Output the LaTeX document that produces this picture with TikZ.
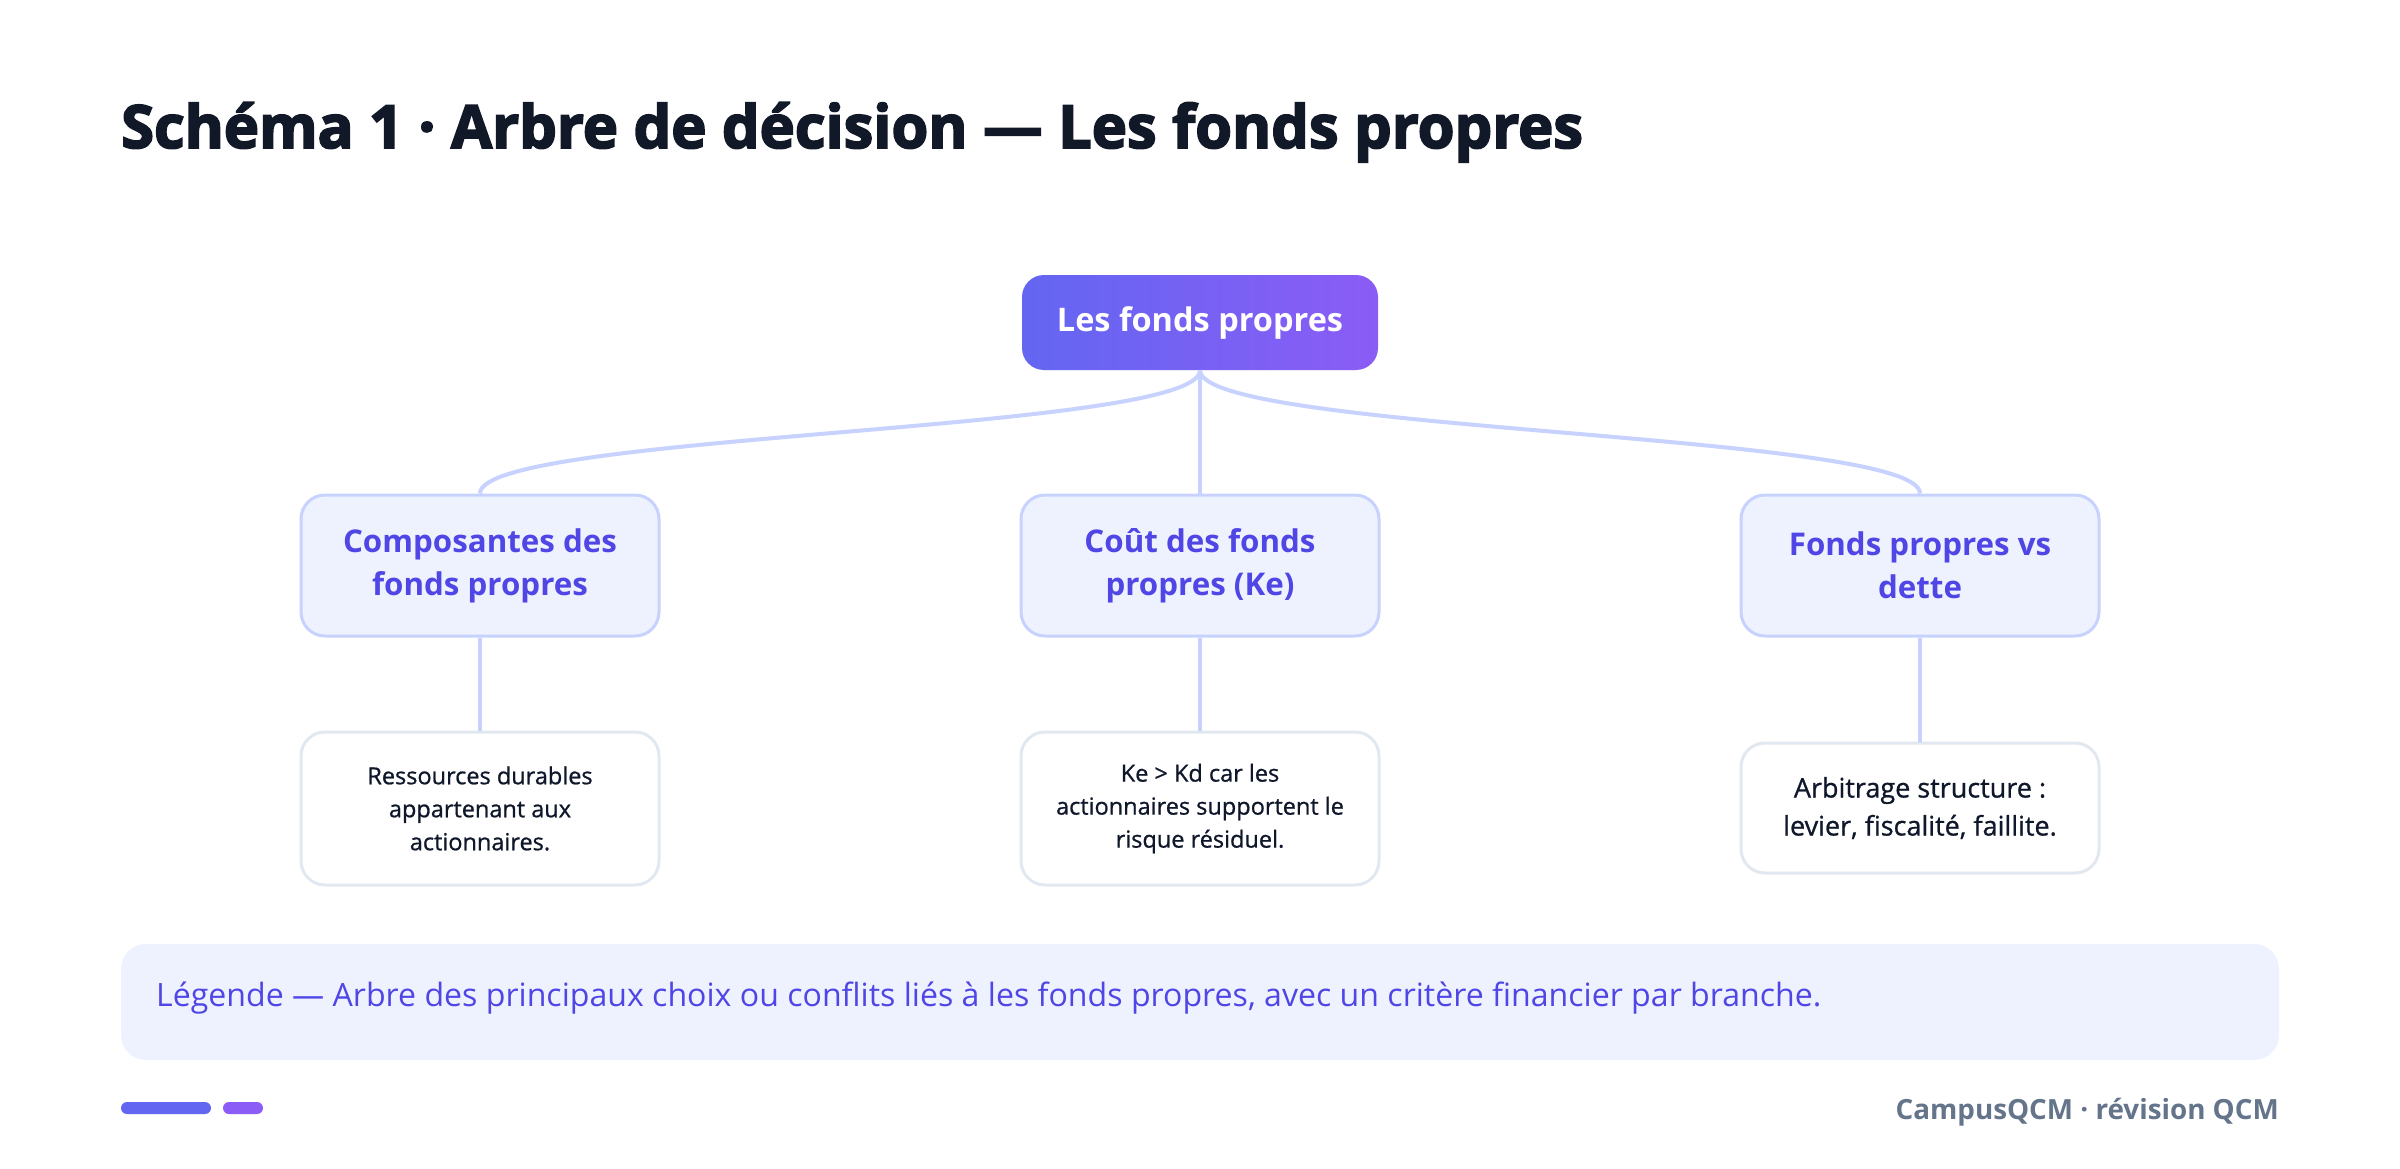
\documentclass[tikz,border=0pt]{standalone}
\usepackage{fontspec}
\setmainfont{Open Sans}
\newfontfamily\titlef{Open Sans}[FakeBold=3]
\newfontfamily\leaff{Open Sans}[FakeBold=0.8]
\usetikzlibrary{calc}
\definecolor{titlec}{HTML}{111827}
\definecolor{indigo}{HTML}{6366F1}
\definecolor{violet}{HTML}{8B5CF6}
\definecolor{edgec}{HTML}{C7D2FE}
\definecolor{childfill}{HTML}{EEF2FF}
\definecolor{childtext}{HTML}{4F46E5}
\definecolor{leafborder}{HTML}{E2E8F0}
\definecolor{leaftext}{HTML}{0F172A}
\definecolor{footc}{HTML}{64748B}
\tikzset{
  rootbox/.style={rounded corners=22pt, left color=indigo, right color=violet,
    minimum width=356pt, minimum height=95pt, text=white, inner sep=0pt,
    font=\fontsize{32.5}{38}\selectfont\bfseries},
  childbox/.style={rounded corners=24pt, draw=edgec, line width=3pt, fill=childfill,
    minimum width=358pt, minimum height=141pt, text=childtext, align=center, inner sep=0pt,
    font=\fontsize{31.3}{43}\selectfont\bfseries},
  leafbox/.style={rounded corners=24pt, draw=leafborder, line width=3pt, fill=white,
    minimum width=358pt, text=leaftext, align=center, inner sep=0pt},
  edge/.style={draw=edgec, line width=4pt},
}
\begin{document}
\begin{tikzpicture}[x=1pt,y=-1pt]
\useasboundingbox[fill=white] (0,0) rectangle (2400,1169);
\node[anchor=base west, text=titlec, inner sep=0pt, font=\fontsize{59.6}{70}\titlef\bfseries] (title) at (121,148) {Schéma 1 · Arbre de décision — Les fonds propres};

\node[rootbox] (root) at (1200,322.5) {Les fonds propres};

\node[childbox] (c1) at (480,565.5) {Composantes des\\fonds propres};
\node[childbox] (c2) at (1200,565.5) {Coût des fonds\\propres (Ke)};
\node[childbox] (c3) at (1920,565.5) {Fonds propres vs\\dette};

\node[leafbox, minimum height=153pt, font=\fontsize{23.5}{33}\leaff] (l1) at (480,808.5) {Ressources durables\\appartenant aux\\actionnaires.};
\node[leafbox, minimum height=153pt, font=\fontsize{23.5}{33}\leaff] (l2) at (1200,808.5) {Ke > Kd car les\\actionnaires supportent le\\risque résiduel.};
\node[leafbox, minimum height=130pt, font=\fontsize{27}{38}\leaff] (l3) at (1920,808) {Arbitrage structure :\\levier, fiscalité, faillite.};

\coordinate (mid) at (1200,432.5);
\draw[edge] (root.south) .. controls (root.south |- mid) and (c1.north |- mid) .. (c1.north);
\draw[edge] (root.south) -- (c2.north);
\draw[edge] (root.south) .. controls (root.south |- mid) and (c3.north |- mid) .. (c3.north);
\draw[edge] (c1.south) -- (l1.north);
\draw[edge] (c2.south) -- (l2.north);
\draw[edge] (c3.south) -- (l3.north);

\node[fill=childfill, rounded corners=25pt, minimum width=2158pt, minimum height=116pt, inner sep=0pt] (legend) at (1200,1002) {};
\node[anchor=base west, text=childtext, inner sep=0pt, font=\fontsize{32.1}{36}\selectfont] (legtext) at (156,1006) {Légende — Arbre des principaux choix ou conflits liés à les fonds propres, avec un critère financier par branche.};

\fill[indigo, rounded corners=6pt] (121,1102) rectangle (211,1114);
\fill[violet, rounded corners=6pt] (223,1102) rectangle (263,1114);

\node[anchor=base east, text=footc, inner sep=0pt, font=\fontsize{27.8}{34}\selectfont\bfseries] (foot) at (2279,1119) {CampusQCM · révision QCM};
\end{tikzpicture}
\end{document}
